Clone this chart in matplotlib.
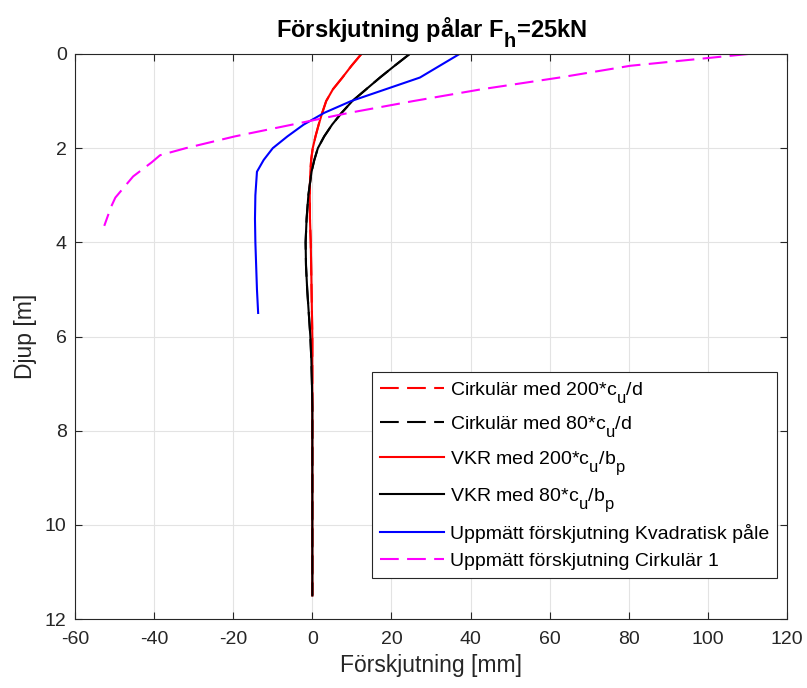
import numpy as np
import matplotlib
matplotlib.use("Agg")
import matplotlib.pyplot as plt

# ── Data ────────────────────────────────────────────────────
# depth [m] for the computed curves (VKR / Cirkulär)
depth_calc = [0, 0.25, 0.5, 0.75, 1.0, 1.25, 1.5, 1.75, 2.0, 2.25, 2.5, 2.75,
              3.0, 3.5, 4.0, 4.5, 5.0, 5.5, 6.0, 6.5, 7.0, 7.5, 8.0, 9.0,
              10.0, 11.0, 11.5]

# displacement [mm], 200*cu
disp_200 = [12.4, 9.9, 7.6, 5.2, 3.5, 2.5, 1.6, 0.8, 0.1, -0.3, -0.5, -0.6,
            -0.65, -0.6, -0.4, -0.3, -0.2, -0.1, 0.0, 0.0, 0.0, 0.0, 0.0, 0.0,
            0.0, 0.0, 0.0]

# displacement [mm], 80*cu
disp_80 = [24.6, 20.8, 17.1, 13.6, 10.1, 7.4, 5.0, 3.0, 1.4, 0.5, -0.2, -0.6,
           -1.0, -1.45, -1.7, -1.6, -1.3, -0.9, -0.5, -0.25, -0.1, 0.0, 0.0,
           0.0, 0.0, 0.0, 0.0]

# measured, square pile
depth_kvad = [0, 0.5, 1.0, 1.25, 1.5, 1.75, 2.0, 2.25, 2.5, 3.0, 3.5, 4.0,
              4.5, 5.0, 5.5]
disp_kvad = [37.2, 27.2, 9.8, 3.0, -2.2, -6.3, -10.0, -12.3, -14.0, -14.4,
             -14.5, -14.4, -14.2, -14.0, -13.7]

# measured, circular pile 1
depth_cirk1 = [0, 0.25, 0.5, 0.75, 1.0, 1.25, 1.5, 1.75, 2.0, 2.15, 2.3,
               2.6, 3.05, 3.25, 3.65]
disp_cirk1 = [110.2, 80.4, 62.5, 42.7, 25.5, 9.3, -5.1, -19.6, -32.0, -38.5,
              -40.6, -45.3, -49.8, -50.9, -52.6]

labels = [
    "Cirkulär med 200*c$_\\mathregular{u}$/d",
    "Cirkulär med 80*c$_\\mathregular{u}$/d",
    "VKR med 200*c$_\\mathregular{u}$/b$_\\mathregular{p}$",
    "VKR med 80*c$_\\mathregular{u}$/b$_\\mathregular{p}$",
    "Uppmätt förskjutning Kvadratisk påle",
    "Uppmätt förskjutning Cirkulär 1",
]

# ── Style ───────────────────────────────────────────────────
plt.rcParams["font.family"] = ["Liberation Sans", "DejaVu Sans"]
plt.rcParams["mathtext.fontset"] = "custom"
plt.rcParams["mathtext.rm"] = "Liberation Sans"
plt.rcParams["mathtext.it"] = "Liberation Sans"
plt.rcParams["mathtext.bf"] = "Liberation Sans:bold"
plt.rcParams["axes.unicode_minus"] = False

# MATLAB-like subscripts: nearly full size and lower
try:
    import matplotlib._mathtext as _mt
    _mt.SHRINK_FACTOR = 0.85
    _mt.FontConstantsBase.sub1 = 0.8
except Exception:
    pass

fig = plt.figure(figsize=(8.07, 6.88), dpi=100)
ax = fig.add_axes([75 / 807, 1 - 619 / 688, (787 - 75) / 807, (619 - 54) / 688])

lw = 1.5
dash = (9, 4)
ax.plot(disp_200, depth_calc, color="red", lw=lw, dashes=dash, label=labels[0])
ax.plot(disp_80, depth_calc, color="black", lw=lw, dashes=dash, label=labels[1])
ax.plot(disp_200, depth_calc, color="red", lw=lw, label=labels[2])
ax.plot(disp_80, depth_calc, color="black", lw=lw, label=labels[3])
ax.plot(disp_kvad, depth_kvad, color="blue", lw=lw, label=labels[4])
ax.plot(disp_cirk1, depth_cirk1, color="magenta", lw=lw, dashes=dash,
        label=labels[5])

ax.set_xlim(-60, 120)
ax.set_ylim(12, 0)
ax.set_xticks(np.arange(-60, 121, 20))
ax.set_yticks(np.arange(0, 13, 2))
ax.grid(True, color="#e3e3e3", linewidth=0.8)
ax.set_axisbelow(True)
ax.tick_params(direction="in", top=True, right=True, labelsize=14,
               length=5, width=0.8, colors="#262626", pad=6)
ax.tick_params(axis="x", pad=9)
for s in ax.spines.values():
    s.set_color("#262626")
    s.set_linewidth(0.8)

ax.set_xlabel("Förskjutning [mm]", fontsize=16.5, color="#262626", labelpad=4)
ax.set_ylabel("Djup [m]", fontsize=16.5, color="#262626", labelpad=6)
ax.set_title("Förskjutning pålar F$_\\mathbf{h}$=25kN", fontsize=17,
             fontweight="bold", pad=12)

leg = ax.legend(loc="lower right", bbox_to_anchor=(0.986, 0.073),
                borderaxespad=0, fontsize=14, handlelength=3.3,
                labelspacing=0.5, handletextpad=0.3, fancybox=False,
                framealpha=1, edgecolor="#262626", borderpad=0.4)
leg.get_frame().set_linewidth(0.8)

fig.savefig("out.png", dpi=100)
